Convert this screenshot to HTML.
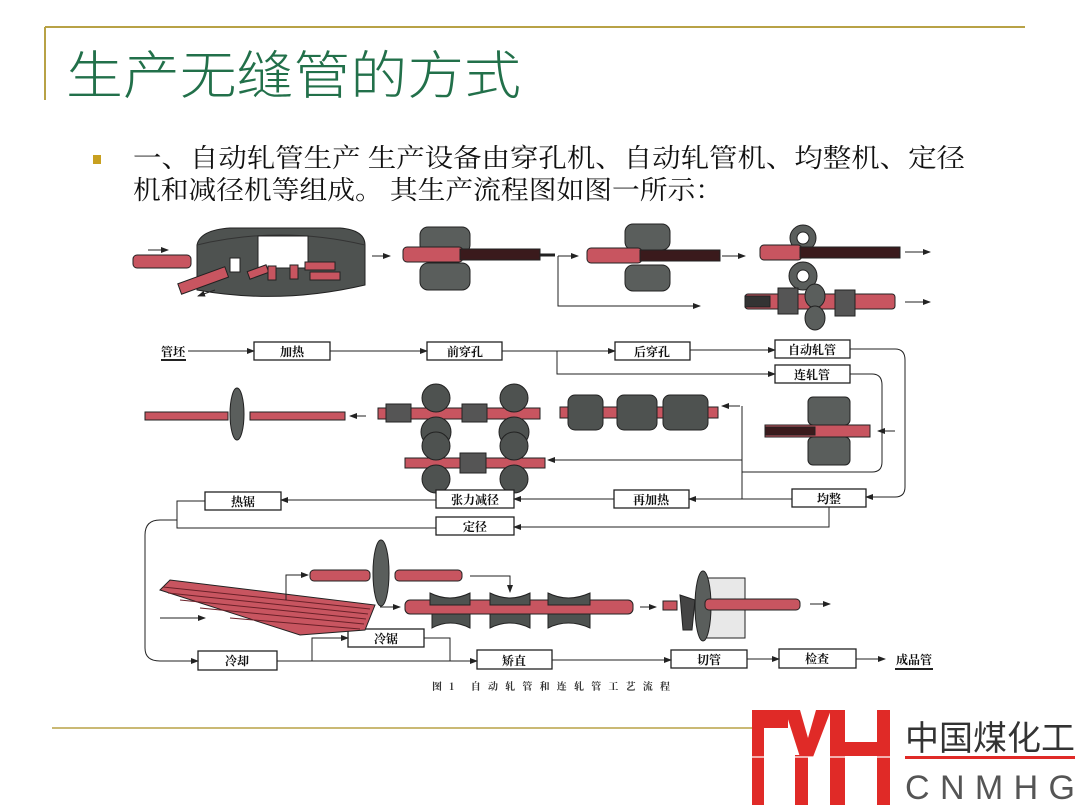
<!DOCTYPE html>
<html><head><meta charset="utf-8"><style>
html,body{margin:0;padding:0;background:#fff}
svg{display:block}
.t{font-family:"Liberation Serif","Noto Serif CJK SC",serif;font-weight:bold;font-size:12px;fill:#111}
</style></head><body>
<svg width="1080" height="810" viewBox="0 0 1080 810" xmlns="http://www.w3.org/2000/svg">
<defs>
<marker id="a" markerWidth="8" markerHeight="6" refX="7" refY="3" orient="auto" markerUnits="userSpaceOnUse"><path d="M0,0 L8,3 L0,6z" fill="#222"/></marker>
</defs>
<!-- header -->
<line x1="45" y1="27" x2="1025" y2="27" stroke="#b8a246" stroke-width="2"/>
<line x1="45" y1="27" x2="45" y2="100" stroke="#b8a246" stroke-width="2"/>
<text x="66" y="94" font-family="'Noto Sans CJK SC',sans-serif" font-weight="300" font-size="52" fill="#22704a" textLength="455" lengthAdjust="spacingAndGlyphs">生产无缝管的方式</text>
<rect x="93" y="155" width="8" height="9" fill="#c8a020"/>
<text x="133" y="167" font-family="'Noto Serif CJK SC',serif" font-size="26" fill="#111" textLength="832" lengthAdjust="spacingAndGlyphs">一、自动轧管生产 生产设备由穿孔机、自动轧管机、均整机、定径</text>
<text x="133" y="199" font-family="'Noto Serif CJK SC',serif" font-size="26" fill="#111" textLength="590" lengthAdjust="spacingAndGlyphs">机和减径机等组成。 其生产流程图如图一所示：</text>

<!-- top row illustrations -->
<g stroke="#222" stroke-width="1">
<rect x="133" y="255" width="58" height="13" rx="4" fill="#c85560"/>
<path d="M197,245 Q200,230 230,228 L340,228 Q365,230 365,245 L365,285 Q280,305 197,290z" fill="#4e5250"/>
<path d="M197,245 Q280,225 365,245" fill="none" stroke="#333"/>
<rect x="258" y="236" width="50" height="32" fill="#fff"/>
<rect x="230" y="258" width="10" height="14" fill="#fff"/>
<g fill="#c85560"><rect x="248" y="268" width="20" height="8" transform="rotate(-20 258 272)"/><rect x="268" y="266" width="8" height="14"/><rect x="290" y="265" width="8" height="14"/><rect x="305" y="262" width="30" height="8"/><rect x="310" y="272" width="30" height="8"/><rect x="178" y="275" width="50" height="11" transform="rotate(-20 203 280)"/></g>
<line x1="148" y1="250" x2="168" y2="250" marker-end="url(#a)"/>
<line x1="215" y1="290" x2="198" y2="296" marker-end="url(#a)"/>
<line x1="372" y1="256" x2="390" y2="256" marker-end="url(#a)"/>
<!-- piercer -->
<rect x="420" y="227" width="50" height="26" rx="8" fill="#5a5e5c"/>
<rect x="420" y="263" width="50" height="27" rx="8" fill="#5a5e5c"/>
<rect x="403" y="247" width="60" height="15" rx="4" fill="#c85560"/>
<rect x="460" y="249" width="80" height="11" fill="#3a1a1c"/>
<line x1="540" y1="255" x2="555" y2="255" stroke-width="3"/>
<path d="M558,256 V306 H700" fill="none" marker-end="url(#a)"/>
<line x1="558" y1="256" x2="578" y2="256" marker-end="url(#a)"/>
<rect x="625" y="224" width="45" height="26" rx="8" fill="#5a5e5c"/>
<rect x="625" y="265" width="45" height="26" rx="8" fill="#5a5e5c"/>
<rect x="587" y="248" width="55" height="15" rx="4" fill="#c85560"/>
<rect x="640" y="250" width="80" height="11" fill="#3a1a1c"/>
<line x1="722" y1="256" x2="745" y2="256" marker-end="url(#a)"/>
<circle cx="803" cy="238" r="13" fill="#5a5e5c"/><circle cx="803" cy="238" r="6" fill="#fff"/>
<circle cx="803" cy="276" r="14" fill="#5a5e5c"/><circle cx="803" cy="276" r="6" fill="#fff"/>
<rect x="760" y="245" width="42" height="15" rx="4" fill="#c85560"/>
<rect x="800" y="247" width="100" height="11" fill="#3a1a1c"/>
<line x1="905" y1="252" x2="930" y2="252" marker-end="url(#a)"/>
<rect x="745" y="294" width="150" height="15" rx="3" fill="#c85560"/>
<rect x="745" y="296" width="25" height="11" fill="#333"/>
<ellipse cx="815" cy="296" rx="10" ry="12" fill="#5a5e5c"/><ellipse cx="815" cy="318" rx="10" ry="12" fill="#5a5e5c"/>
<rect x="778" y="288" width="20" height="26" fill="#555"/><rect x="835" y="290" width="20" height="26" fill="#555"/>
<line x1="905" y1="302" x2="930" y2="302" marker-end="url(#a)"/>
</g>

<!-- middle row illustrations -->
<g stroke="#222" stroke-width="1">
<rect x="145" y="412" width="83" height="8" fill="#c85560"/>
<ellipse cx="237" cy="414" rx="7" ry="26" fill="#5a5e5c"/>
<rect x="250" y="412" width="95" height="8" fill="#c85560"/>
<line x1="366" y1="416" x2="350" y2="416" marker-end="url(#a)"/>
<rect x="378" y="408" width="162" height="11" fill="#c85560"/>
<circle cx="436" cy="398" r="14" fill="#4e5250"/><circle cx="436" cy="432" r="15" fill="#4e5250"/>
<circle cx="514" cy="398" r="14" fill="#4e5250"/><circle cx="514" cy="432" r="15" fill="#4e5250"/>
<rect x="386" y="404" width="25" height="18" fill="#555"/><rect x="462" y="404" width="25" height="18" fill="#555"/>
<rect x="405" y="458" width="140" height="10" fill="#c85560"/>
<circle cx="436" cy="446" r="14" fill="#4e5250"/><circle cx="436" cy="479" r="14" fill="#4e5250"/>
<circle cx="514" cy="446" r="14" fill="#4e5250"/><circle cx="514" cy="479" r="14" fill="#4e5250"/>
<rect x="460" y="453" width="26" height="20" fill="#555"/>
<rect x="560" y="407" width="158" height="11" fill="#c85560"/>
<rect x="568" y="395" width="35" height="35" rx="7" fill="#4e5250"/>
<rect x="617" y="395" width="40" height="35" rx="7" fill="#4e5250"/>
<rect x="663" y="395" width="45" height="35" rx="7" fill="#4e5250"/>
<line x1="740" y1="406" x2="722" y2="406" marker-end="url(#a)"/>
<rect x="808" y="397" width="42" height="28" rx="5" fill="#5a5e5c"/>
<rect x="808" y="437" width="42" height="28" rx="5" fill="#5a5e5c"/>
<rect x="765" y="425" width="105" height="12" fill="#c85560"/>
<rect x="765" y="427" width="50" height="8" fill="#3a1a1c"/>
<line x1="895" y1="431" x2="878" y2="431" marker-end="url(#a)"/>
</g>

<!-- flow boxes -->
<g fill="#fff" stroke="#222" stroke-width="1.3">
<rect x="254" y="342" width="76" height="18"/>
<rect x="427" y="342" width="75" height="18"/>
<rect x="615" y="342" width="75" height="18"/>
<rect x="775" y="340" width="75" height="18"/>
<rect x="775" y="365" width="75" height="18"/>
<rect x="792" y="489" width="74" height="18"/>
<rect x="614" y="490" width="75" height="18"/>
<rect x="436" y="490" width="78" height="18"/>
<rect x="205" y="492" width="76" height="18"/>
<rect x="436" y="517" width="78" height="18"/>
<rect x="198" y="651" width="79" height="19"/>
<rect x="348" y="629" width="76" height="18"/>
<rect x="477" y="650" width="75" height="19"/>
<rect x="671" y="650" width="76" height="18"/>
<rect x="779" y="649" width="77" height="19"/>
</g>
<g class="t" text-anchor="middle">
<text x="292" y="356">加热</text><text x="465" y="356">前穿孔</text><text x="652" y="356">后穿孔</text>
<text x="812" y="354">自动轧管</text><text x="812" y="379">连轧管</text><text x="829" y="503">均整</text>
<text x="651" y="504">再加热</text><text x="475" y="504">张力减径</text><text x="243" y="506">热锯</text>
<text x="475" y="531">定径</text><text x="237" y="665">冷却</text><text x="386" y="643">冷锯</text>
<text x="514" y="665">矫直</text><text x="709" y="664">切管</text><text x="817" y="663">检查</text>
<text x="173" y="356">管坯</text><text x="914" y="664">成品管</text>
</g>
<line x1="161" y1="360" x2="186" y2="360" stroke="#222" stroke-width="2"/>
<line x1="895" y1="669" x2="933" y2="669" stroke="#222" stroke-width="2"/>
<text x="432" y="690" font-family="'Noto Serif CJK SC',serif" font-size="10" font-weight="bold" fill="#333" textLength="238" lengthAdjust="spacing">图1  自动轧管和连轧管工艺流程</text>

<!-- connectors -->
<g stroke="#222" stroke-width="1" fill="none">
<line x1="188" y1="351" x2="254" y2="351" marker-end="url(#a)"/>
<line x1="330" y1="351" x2="427" y2="351" marker-end="url(#a)"/>
<line x1="502" y1="351" x2="615" y2="351" marker-end="url(#a)"/>
<path d="M557,351 V374 H775" marker-end="url(#a)"/>
<line x1="690" y1="350" x2="775" y2="350" marker-end="url(#a)"/>
<path d="M850,349 H895 Q905,349 905,360 V487 Q905,497 895,497 H866" marker-end="url(#a)"/>
<path d="M850,374 H872 Q882,374 882,385 V462 Q882,472 872,472 H742 V499"/>
<path d="M742,406 V472"/>
<line x1="742" y1="460" x2="548" y2="460" marker-end="url(#a)"/>
<line x1="792" y1="499" x2="689" y2="499" marker-end="url(#a)"/>
<line x1="614" y1="499" x2="514" y2="499" marker-end="url(#a)"/>
<line x1="436" y1="500" x2="281" y2="500" marker-end="url(#a)"/>
<path d="M829,507 V527 H514" marker-end="url(#a)"/>
<path d="M205,501 H177 V528 H436"/>
<path d="M177,520 H160 Q145,520 145,535 V648 Q145,661 160,661 H198" marker-end="url(#a)"/>
<line x1="277" y1="661" x2="477" y2="661" marker-end="url(#a)"/>
<path d="M312,661 V638 H348" marker-end="url(#a)"/>
<path d="M424,638 H450 V661"/>
<line x1="552" y1="660" x2="671" y2="660" marker-end="url(#a)"/>
<line x1="747" y1="659" x2="779" y2="659" marker-end="url(#a)"/>
<line x1="856" y1="659" x2="885" y2="659" marker-end="url(#a)"/>
</g>

<!-- bottom illustrations -->
<g stroke="#222" stroke-width="1">
<path d="M160,590 L170,580 L375,605 L365,630 L300,635z" fill="#c85560"/>
<g stroke="#6a2028" fill="none"><line x1="163" y1="587" x2="370" y2="609"/><line x1="168" y1="593" x2="368" y2="614"/><line x1="180" y1="600" x2="366" y2="619"/><line x1="200" y1="608" x2="364" y2="624"/><line x1="230" y1="618" x2="360" y2="629"/></g>
<line x1="160" y1="618" x2="205" y2="618" marker-end="url(#a)"/>
<path d="M286,600 V575 H308" fill="none" marker-end="url(#a)"/>
<rect x="310" y="570" width="60" height="11" rx="4" fill="#c85560"/>
<ellipse cx="381" cy="573" rx="8" ry="33" fill="#5a5e5c"/>
<rect x="395" y="570" width="67" height="11" rx="4" fill="#c85560"/>
<path d="M470,576 H510 V592" fill="none" marker-end="url(#a)"/>
<line x1="380" y1="607" x2="400" y2="607" marker-end="url(#a)"/>
<rect x="405" y="600" width="228" height="14" rx="5" fill="#c85560"/>
<g fill="#4e5250"><path d="M430,593 Q450,603 470,593 V605 H430z"/><path d="M490,593 Q510,603 530,593 V605 H490z"/><path d="M548,593 Q568,603 590,593 V605 H548z"/>
<path d="M432,614 H470 V628 Q450,618 432,628z"/><path d="M490,614 H530 V628 Q510,618 490,628z"/><path d="M548,614 H590 V628 Q568,618 548,628z"/></g>
<line x1="640" y1="607" x2="656" y2="607" marker-end="url(#a)"/>
<rect x="663" y="601" width="14" height="9" fill="#c85560"/>
<path d="M680,595 L695,600 L692,630 L683,630z" fill="#444"/>
<rect x="705" y="578" width="40" height="60" fill="#e8e8e8"/>
<ellipse cx="703" cy="606" rx="8" ry="35" fill="#5a5e5c"/>
<rect x="705" y="599" width="95" height="11" rx="4" fill="#c85560"/>
<line x1="810" y1="604" x2="830" y2="604" marker-end="url(#a)"/>
</g>

<!-- footer -->
<line x1="52" y1="728" x2="760" y2="728" stroke="#b8a246" stroke-width="1.5"/>
<g fill="#e02a27">
<rect x="752" y="710" width="12" height="95"/>
<rect x="752" y="710" width="36" height="18"/>
<polygon points="785,710 800,710 808,738 816,710 831,710 813,757 800,757"/>
<rect x="795" y="755" width="13" height="50"/>
<rect x="830" y="710" width="15" height="95"/>
<rect x="845" y="742" width="33" height="14"/>
<rect x="877" y="710" width="13" height="95"/>
<rect x="905" y="756" width="170" height="3"/>
</g>
<line x1="752" y1="757" x2="890" y2="757" stroke="#fff" stroke-width="1.2"/>
<text x="905" y="750" font-family="'Noto Sans CJK SC',sans-serif" font-size="34" fill="#333" textLength="170" lengthAdjust="spacingAndGlyphs">中国煤化工</text>
<text x="905" y="799" font-family="'Liberation Sans',sans-serif" font-size="34" fill="#555" textLength="170" lengthAdjust="spacing">CNMHG</text>
</svg>
</body></html>
